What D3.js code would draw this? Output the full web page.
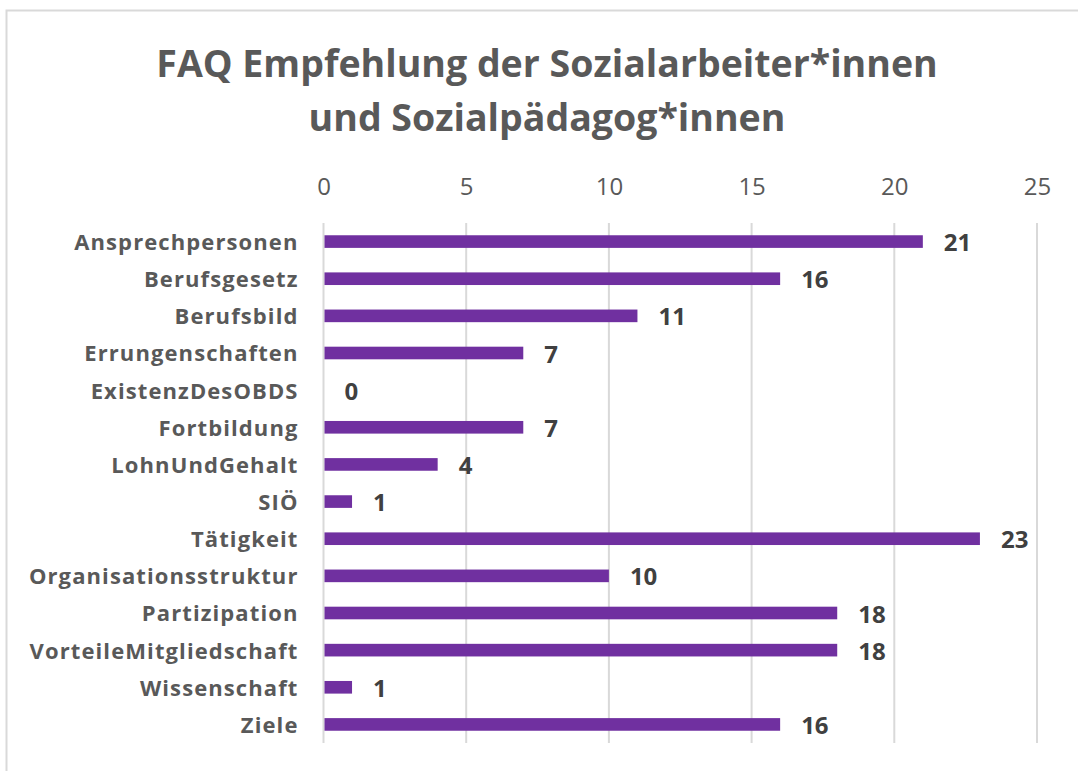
<!DOCTYPE html>
<html>
<head>
<meta charset="utf-8">
<script src="https://cdn.jsdelivr.net/npm/d3@7"></script>
<style>
  body { margin: 0; background: #fff; }
  text { font-family: "Open Sans", sans-serif; }
</style>
</head>
<body>
<div id="chart"></div>
<script>
// data
const categories = ["Ansprechpersonen", "Berufsgesetz", "Berufsbild", "Errungenschaften",
    "ExistenzDesOBDS", "Fortbildung", "LohnUndGehalt", "SIÖ", "Tätigkeit",
    "Organisationsstruktur", "Partizipation", "VorteileMitgliedschaft", "Wissenschaft", "Ziele"];
const values = [21, 16, 11, 7, 0, 7, 4, 1, 23, 10, 18, 18, 1, 16];
const tickValues = [0, 5, 10, 15, 20, 25];
const titleLines = ["FAQ Empfehlung der Sozialarbeiter*innen", "und Sozialpädagog*innen"];

const width = 1078, height = 771;
const margin = { top: 223, right: 41, bottom: 28, left: 323.5 };

const svg = d3.select("#chart")
    .append("svg")
    .attr("width", width)
    .attr("height", height);

// chart frame
svg.append("rect")
    .attr("x", 6.5).attr("y", 10.5)
    .attr("width", width).attr("height", height)
    .attr("fill", "none")
    .attr("stroke", "#d9d9d9")
    .attr("stroke-width", 2);

// title
svg.append("g")
    .selectAll("text")
    .data(titleLines)
    .join("text")
    .attr("x", 547)
    .attr("y", (d, i) => 77 + i * 54)
    .attr("text-anchor", "middle")
    .attr("font-size", 37.5)
    .attr("font-weight", "bold")
    .attr("fill", "#595959")
    .text(d => d);

const x = d3.scaleLinear()
    .domain([0, 25])
    .range([margin.left, width - margin.right]);

const y = d3.scaleBand()
    .domain(categories)
    .range([margin.top, height - margin.bottom])
    .paddingInner(0.66)
    .paddingOuter(0.33);

// gridlines
svg.append("g")
    .selectAll("line")
    .data(tickValues)
    .join("line")
    .attr("x1", d => x(d)).attr("x2", d => x(d))
    .attr("y1", margin.top).attr("y2", height - margin.bottom)
    .attr("stroke", "#d9d9d9")
    .attr("stroke-width", 2);

// top axis
const xAxis = svg.append("g")
    .attr("transform", `translate(0,${margin.top})`)
    .call(d3.axisTop(x).tickValues(tickValues).tickSize(0).tickPadding(28));
xAxis.select(".domain").remove();
xAxis.selectAll("text")
    .attr("font-family", "'Open Sans', sans-serif")
    .attr("font-size", 24)
    .attr("fill", "#595959");

// category axis
const yAxis = svg.append("g")
    .attr("transform", `translate(${margin.left},0)`)
    .call(d3.axisLeft(y).tickSize(0).tickPadding(25));
yAxis.select(".domain").remove();
yAxis.selectAll("text")
    .attr("font-family", "'Open Sans', sans-serif")
    .attr("font-size", 22)
    .attr("font-weight", "bold")
    .attr("letter-spacing", 1.1)
    .attr("dy", "0.38em")
    .attr("fill", "#595959");

const rows = categories.map((c, i) => ({ cat: c, val: values[i] }));

// bars
svg.append("g")
    .selectAll("rect")
    .data(rows)
    .join("rect")
    .attr("x", x(0) + 1)
    .attr("y", d => y(d.cat))
    .attr("width", d => Math.max(0, x(d.val) - x(0) - 1))
    .attr("height", y.bandwidth())
    .attr("fill", "#7030a0");

// value labels
svg.append("g")
    .selectAll("text")
    .data(rows)
    .join("text")
    .attr("x", d => x(d.val) + 21)
    .attr("y", d => y(d.cat) + y.bandwidth() / 2)
    .attr("dy", "0.4em")
    .attr("font-size", 24)
    .attr("font-weight", "bold")
    .attr("fill", "#404040")
    .text(d => d.val);
</script>
</body>
</html>
